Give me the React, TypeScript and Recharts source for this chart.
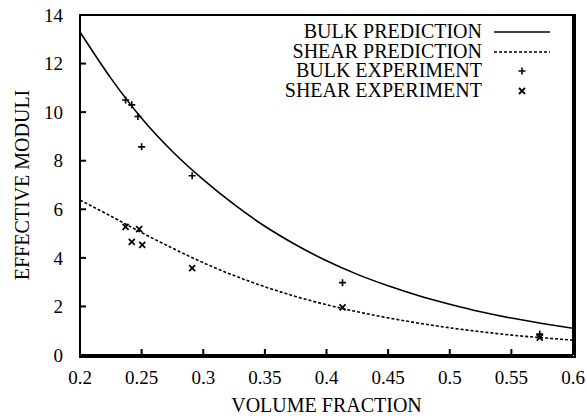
import React from "react"
import { ComposedChart, Line, Scatter, XAxis, YAxis, Legend } from "recharts"

const fraction = [0.2, 0.225, 0.25, 0.275, 0.3, 0.325, 0.35, 0.375, 0.4, 0.425, 0.45, 0.475, 0.5, 0.525, 0.55, 0.575, 0.6]
const bulkPrediction = [13.3, 11.4, 9.75, 8.38, 7.22, 6.2, 5.3, 4.54, 3.88, 3.32, 2.85, 2.44, 2.09, 1.78, 1.52, 1.3, 1.1]
const shearPrediction = [6.38, 5.72, 5.04, 4.4, 3.8, 3.27, 2.81, 2.41, 2.07, 1.78, 1.53, 1.31, 1.12, 0.96, 0.82, 0.71, 0.61]

const bulkExpX = [0.237, 0.242, 0.247, 0.25, 0.291, 0.413, 0.573]
const bulkExpY = [10.5, 10.3, 9.82, 8.57, 7.38, 2.98, 0.86]
const shearExpX = [0.237, 0.242, 0.248, 0.2505, 0.291, 0.413, 0.573]
const shearExpY = [5.28, 4.66, 5.18, 4.53, 3.58, 1.96, 0.72]

const xTicks = [0.2, 0.25, 0.3, 0.35, 0.4, 0.45, 0.5, 0.55, 0.6]
const yTicks = [0, 2, 4, 6, 8, 10, 12, 14]

const legendItems = ["BULK PREDICTION", "SHEAR PREDICTION", "BULK EXPERIMENT", "SHEAR EXPERIMENT"]

const FONT = "Liberation Serif"
const TICK_LEN = 6
const INK = "black"
// plot box in page pixels
const BOX = { left: 80, top: 15, right: 573, bottom: 355 }

const bulkLine = fraction.map((x, i) => ({ x, y: bulkPrediction[i] }))
const shearLine = fraction.map((x, i) => ({ x, y: shearPrediction[i] }))
const bulkExp = bulkExpX.map((x, i) => ({ x, y: bulkExpY[i] }))
const shearExp = shearExpX.map((x, i) => ({ x, y: shearExpY[i] }))

const Plus = ({ cx, cy }: any) => (
    <path d={`M${cx - 3.5},${cy}H${cx + 3.5}M${cx},${cy - 3.5}V${cy + 3.5}`} stroke={INK} strokeWidth={1.6} fill="none" />
)
const Cross = ({ cx, cy }: any) => (
    <path d={`M${cx - 3},${cy - 3}L${cx + 3},${cy + 3}M${cx - 3},${cy + 3}L${cx + 3},${cy - 3}`} stroke={INK} strokeWidth={1.8} fill="none" />
)

const BottomTick = ({ x, y, payload }: any) => (
    <g>
        <line x1={x} y1={y} x2={x} y2={y - TICK_LEN} stroke={INK} strokeWidth={2} />
        <text x={x} y={y + 22} dy="0.35em" textAnchor="middle" fontFamily={FONT} fontSize={19} fill={INK}>
            {payload.value}
        </text>
    </g>
)
const TopTick = ({ x, y }: any) => (
    <line x1={x} y1={y} x2={x} y2={y + TICK_LEN} stroke={INK} strokeWidth={2} />
)
const LeftTick = ({ x, y, payload }: any) => (
    <g>
        <line x1={x} y1={y} x2={x + TICK_LEN} y2={y} stroke={INK} strokeWidth={2} />
        <text x={x - 17} y={y} dy="0.35em" textAnchor="end" fontFamily={FONT} fontSize={19} fill={INK}>
            {payload.value}
        </text>
    </g>
)
const RightTick = ({ x, y }: any) => (
    <line x1={x} y1={y} x2={x - TICK_LEN} y2={y} stroke={INK} strokeWidth={2} />
)

const Sample = ({ i }: { i: number }) => (
    <svg width={56} height={19.5} style={{ display: "block" }}>
        {i === 0 && <line x1={0} y1={10} x2={56} y2={10} stroke={INK} strokeWidth={1.5} />}
        {i === 1 && <line x1={0} y1={10} x2={56} y2={10} stroke={INK} strokeWidth={1.5} strokeDasharray="3 2" />}
        {i === 2 && <Plus cx={28} cy={10} />}
        {i === 3 && <Cross cx={28} cy={10} />}
    </svg>
)

const LegendBox = () => (
    <div style={{ fontFamily: FONT, fontSize: 20, color: INK }}>
        {legendItems.map((name, i) => (
            <div key={name} style={{ display: "flex", alignItems: "center", height: 19.5 }}>
                <div style={{ width: 232, flexShrink: 0, textAlign: "right", lineHeight: "19.5px", whiteSpace: "nowrap" }}>{name}</div>
                <div style={{ marginLeft: 12, flexShrink: 0 }}>
                    <Sample i={i} />
                </div>
            </div>
        ))}
    </div>
)

const titleStyle: React.CSSProperties = {
    position: "absolute",
    fontFamily: FONT,
    fontSize: 20,
    lineHeight: "20px",
    color: INK,
    textAlign: "center",
    whiteSpace: "nowrap",
}

export default function App() {
    return (
        <div style={{ position: "absolute", left: 0, top: 0, width: 587, height: 418, background: "#fff" }}>
            <ComposedChart width={587} height={418} margin={{ top: 14, right: 13, bottom: 13, left: 10 }}>
                <XAxis
                    dataKey="x"
                    type="number"
                    domain={[xTicks[0], xTicks[xTicks.length - 1]]}
                    tickCount={xTicks.length}
                    interval={0}
                    allowDataOverflow
                    height={50}
                    tickSize={0}
                    tickMargin={0}
                    tickLine={false}
                    tick={<BottomTick />}
                    stroke={INK}
                    strokeWidth={2}
                />
                <XAxis
                    xAxisId="top"
                    dataKey="x"
                    type="number"
                    orientation="top"
                    domain={[xTicks[0], xTicks[xTicks.length - 1]]}
                    tickCount={xTicks.length}
                    interval={0}
                    height={1}
                    tickSize={0}
                    tickMargin={0}
                    tickLine={false}
                    tick={<TopTick />}
                    stroke={INK}
                    strokeWidth={2}
                />
                <YAxis
                    type="number"
                    domain={[yTicks[0], yTicks[yTicks.length - 1]]}
                    tickCount={yTicks.length}
                    interval={0}
                    width={70}
                    tickSize={0}
                    tickMargin={0}
                    tickLine={false}
                    tick={<LeftTick />}
                    stroke={INK}
                    strokeWidth={2}
                />
                <YAxis
                    yAxisId="right"
                    orientation="right"
                    type="number"
                    domain={[yTicks[0], yTicks[yTicks.length - 1]]}
                    tickCount={yTicks.length}
                    interval={0}
                    width={1}
                    tickSize={0}
                    tickMargin={0}
                    tickLine={false}
                    tick={<RightTick />}
                    stroke={INK}
                    strokeWidth={2}
                />
                <Legend
                    layout="vertical"
                    align="center"
                    verticalAlign="middle"
                    content={<LegendBox />}
                    wrapperStyle={{ left: 250, top: 22, width: 310, height: 80 }}
                />
                <Line data={bulkLine} dataKey="y" type="monotone" stroke={INK} strokeWidth={1.6} dot={false} isAnimationActive={false} />
                <Line data={shearLine} dataKey="y" type="monotone" stroke={INK} strokeWidth={1.6} strokeDasharray="3 2" dot={false} isAnimationActive={false} />
                <Scatter data={bulkExp} dataKey="y" shape={<Plus />} isAnimationActive={false} />
                <Scatter data={shearExp} dataKey="y" shape={<Cross />} isAnimationActive={false} />
            </ComposedChart>
            <div
                style={{
                    position: "absolute",
                    left: BOX.left - 1,
                    top: BOX.top - 1,
                    width: BOX.right - BOX.left,
                    height: BOX.bottom - BOX.top,
                    border: `2px solid ${INK}`,
                    boxSizing: "content-box",
                    pointerEvents: "none",
                    transform: "translate(-0px, -0px)",
                    marginLeft: -0,
                }}
            />
            <div style={{ ...titleStyle, left: BOX.left, width: BOX.right - BOX.left, top: 395 }}>VOLUME FRACTION</div>
            <div style={{ ...titleStyle, left: 22 - 150, width: 300, top: 185 - 10, transform: "rotate(-90deg)" }}>EFFECTIVE MODULI</div>
        </div>
    )
}
